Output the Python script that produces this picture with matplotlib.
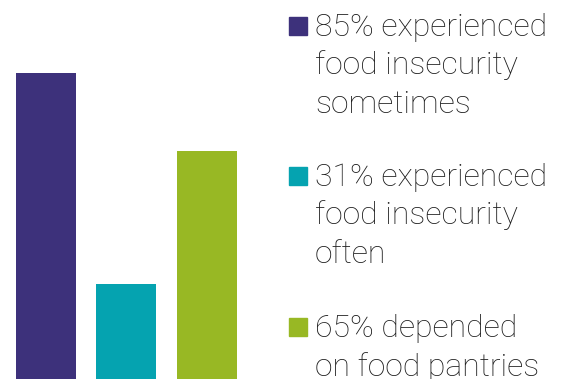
import matplotlib.pyplot as plt
from matplotlib.patches import Rectangle

categories = ['sometimes', 'often', 'pantries']
values = [85, 31, 65]
colors = ['#3d317b', '#05a3b0', '#98b824']
labels = [
    ['85% experienced', 'food insecurity', 'sometimes'],
    ['31% experienced', 'food insecurity', 'often'],
    ['65% depended', 'on food pantries'],
]

W, H = 567, 379
fig = plt.figure(figsize=(W / 100, H / 100), dpi=100)
ax = fig.add_axes([0, 0, 1, 1])
ax.bar(range(len(values)), values, width=0.745, color=colors)
ax.set_xlim(-0.571, 6.472)
ax.set_ylim(6.65, 103.66)
ax.axis('off')

# legend drawn by hand: square + stacked lines (pixel positions from top)
group_baselines = [36, 186, 337]
line_step = 38.5
for lines, color, base in zip(labels, colors, group_baselines):
    fig.add_artist(Rectangle((289 / W, 1 - (base - 1) / H), 18 / W, 18 / H,
                             transform=fig.transFigure, color=color))
    for i, line in enumerate(lines):
        y = base + i * line_step
        fig.text(315 / W, 1 - y / H, line, fontsize=23, family='Roboto',
                 fontweight='light', color='#1e1e1e', va='baseline', ha='left')

fig.savefig('out.png', dpi=100)
plt.close(fig)
